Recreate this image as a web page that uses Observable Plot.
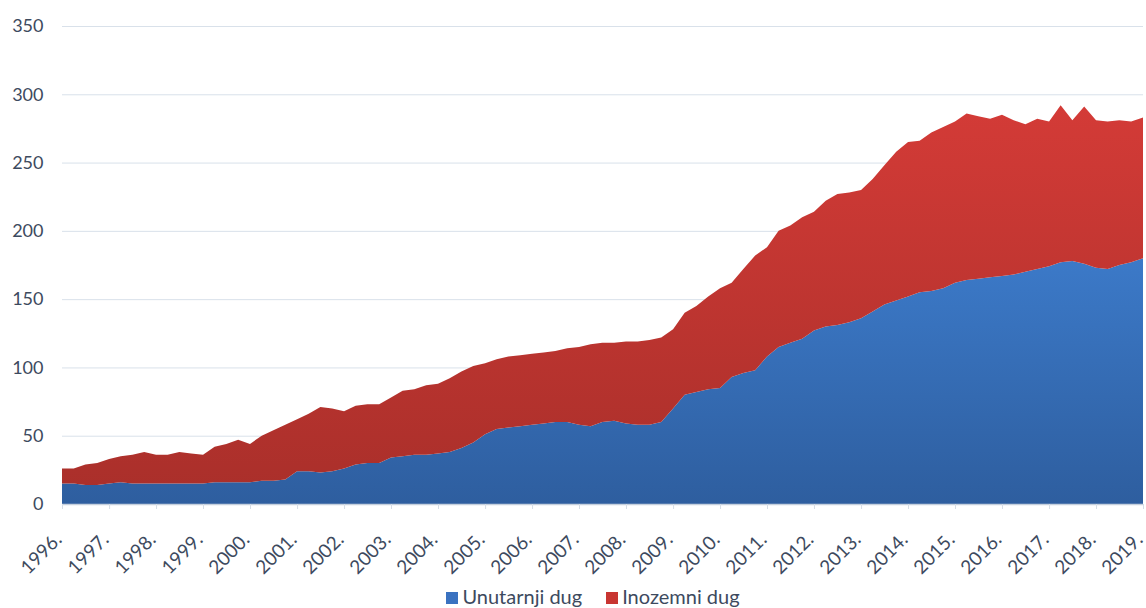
<!DOCTYPE html>
<html>
<head>
<meta charset="utf-8">
<script src="https://cdn.jsdelivr.net/npm/d3@7"></script>
<script src="https://cdn.jsdelivr.net/npm/@observablehq/plot@0.6"></script>
<style>
  html, body { margin: 0; padding: 0; background: #fff; overflow: hidden; }
  #chart { width: 1146px; height: 608px; position: relative; }
  #chart svg { display: block; }
  .legend { position: absolute; top: 584px; left: 0; width: 1146px; padding-left: 40px; box-sizing: border-box;
    text-align: center; font-family: Lato, "Open Sans", sans-serif; font-size: 20px; color: #3d4a5e; white-space: nowrap; }
  .legend span.item { margin: 0 12px; }
  .legend span.sw { display: inline-block; width: 12px; height: 12px; margin-right: 4px; vertical-align: 0px; }
</style>
</head>
<body>
<div id="chart"></div>
<script>
const periods = [
  "1996-01","1996-04","1996-07","1996-10","1997-01","1997-04","1997-07","1997-10",
  "1998-01","1998-04","1998-07","1998-10","1999-01","1999-04","1999-07","1999-10",
  "2000-01","2000-04","2000-07","2000-10","2001-01","2001-04","2001-07","2001-10",
  "2002-01","2002-04","2002-07","2002-10","2003-01","2003-04","2003-07","2003-10",
  "2004-01","2004-04","2004-07","2004-10","2005-01","2005-04","2005-07","2005-10",
  "2006-01","2006-04","2006-07","2006-10","2007-01","2007-04","2007-07","2007-10",
  "2008-01","2008-04","2008-07","2008-10","2009-01","2009-04","2009-07","2009-10",
  "2010-01","2010-04","2010-07","2010-10","2011-01","2011-04","2011-07","2011-10",
  "2012-01","2012-04","2012-07","2012-10","2013-01","2013-04","2013-07","2013-10",
  "2014-01","2014-04","2014-07","2014-10","2015-01","2015-04","2015-07","2015-10",
  "2016-01","2016-04","2016-07","2016-10","2017-01","2017-04","2017-07","2017-10",
  "2018-01","2018-04","2018-07","2018-10","2019-01"
];
// Unutarnji dug (domestic debt)
const unutarnji = [
  15,15,14,14,15,16,15,15,
  15,15,15,15,15,16,16,16,
  16,17,17,18,24,24,23,24,
  26,29,30,30,34,35,36,36,
  37,38,41,45,51,55,56,57,
  58,59,60,60,58,57,60,61,
  59,58,58,60,70,80,82,84,
  85,93,96,98,108,115,118,121,
  127,130,131,133,136,141,146,149,
  152,155,156,158,162,164,165,166,
  167,168,170,172,174,177,178,176,
  173,172,175,177,180
];
// Inozemni dug (foreign debt)
const inozemni = [
  11,11,15,16,18,19,21,23,
  21,21,23,22,21,26,28,31,
  28,33,37,40,38,42,48,46,
  42,43,43,43,44,48,48,51,
  51,54,56,56,52,51,52,52,
  52,52,52,54,57,60,58,57,
  60,61,62,62,58,60,63,68,
  73,69,76,84,80,85,86,89,
  87,92,96,95,94,97,102,109,
  113,111,116,118,118,122,119,116,
  118,113,108,110,106,115,103,115,
  108,108,106,103,103
];
const seriesNames = ["Unutarnji dug", "Inozemni dug"];
const years = d3.range(1996, 2020);
const yTicks = [0, 50, 100, 150, 200, 250, 300, 350];

const parse = d3.utcParse("%Y-%m");
const data = [];
periods.forEach((p, i) => {
  data.push({date: parse(p), series: seriesNames[0], value: unutarnji[i]});
  data.push({date: parse(p), series: seriesNames[1], value: inozemni[i]});
});
const yearDates = years.map(y => new Date(Date.UTC(y, 0, 1)));

const font = 'Lato, "Open Sans", sans-serif';
const textColor = "#3d4a5e";

const plot = Plot.plot({
  width: 1146,
  height: 580,
  marginLeft: 62,
  marginRight: 3,
  marginTop: 26,
  marginBottom: 76,
  style: {fontFamily: font, fontSize: "18px", color: textColor, background: "#fff", overflow: "visible"},
  x: {
    type: "utc",
    domain: [yearDates[0], yearDates[yearDates.length - 1]],
    label: null
  },
  y: {domain: [0, 350], label: null},
  color: {domain: seriesNames, range: ["url(#gradBlue)", "url(#gradRed)"]},
  marks: [
    Plot.gridY(yTicks, {stroke: "#d9e1ea", strokeOpacity: 1, strokeWidth: 1}),
    Plot.areaY(data, Plot.stackY({x: "date", y: "value", z: "series", fill: "series", order: seriesNames})),
    Plot.ruleY([0], {stroke: "#c5d0dd", strokeWidth: 1.5}),
    Plot.axisY(yTicks, {tickSize: 0, tickPadding: 19, fontSize: 18, fill: textColor}),
    // small tick marks below the baseline
    Plot.axisX(yearDates, {tickSize: 5, stroke: "#d6dde6", tickFormat: null, text: null}),
    // rotated year labels
    Plot.axisX(yearDates, {
      tickSize: 0, tickPadding: 4, tickRotate: -45, dx: -4, dy: 28,
      tickFormat: d => d.getUTCFullYear() + ".", fontSize: 19, fill: textColor
    })
  ]
});

// gradients for the filled areas
const ns = "http://www.w3.org/2000/svg";
const defs = document.createElementNS(ns, "defs");
defs.innerHTML = `
  <linearGradient id="gradBlue" gradientUnits="userSpaceOnUse" x1="0" y1="200" x2="0" y2="504">
    <stop offset="0" stop-color="#3f80d2"/>
    <stop offset="1" stop-color="#2e5e9f"/>
  </linearGradient>
  <linearGradient id="gradRed" gradientUnits="userSpaceOnUse" x1="0" y1="100" x2="0" y2="500">
    <stop offset="0" stop-color="#d43b37"/>
    <stop offset="1" stop-color="#a92f2a"/>
  </linearGradient>`;
plot.insertBefore(defs, plot.firstChild);

const chart = document.getElementById("chart");
chart.appendChild(plot);

const legend = document.createElement("div");
legend.className = "legend";
const swColors = ["#3a72c0", "#c83531"];
seriesNames.forEach((name, i) => {
  const item = document.createElement("span");
  item.className = "item";
  const sw = document.createElement("span");
  sw.className = "sw";
  sw.style.background = swColors[i];
  item.appendChild(sw);
  item.appendChild(document.createTextNode(name));
  legend.appendChild(item);
});
chart.appendChild(legend);
</script>
</body>
</html>
